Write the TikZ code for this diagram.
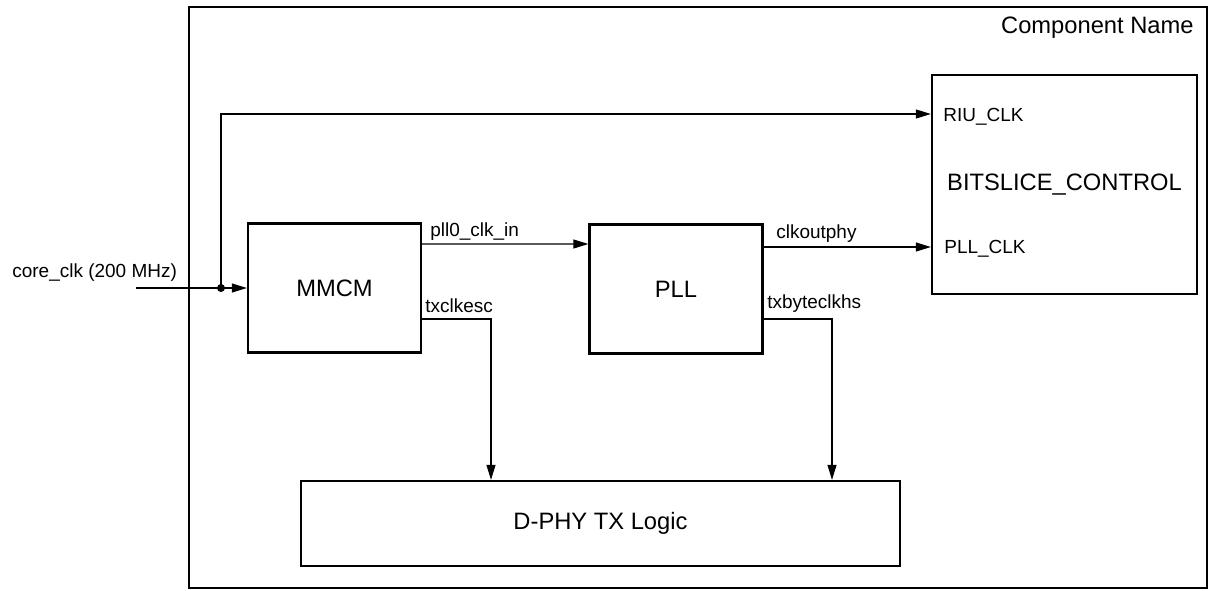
\documentclass[tikz,border=0pt]{standalone}
\usepackage{fontspec}
\setmainfont{Liberation Sans}
\usetikzlibrary{arrows.meta}

\begin{document}
\begin{tikzpicture}[
		blk/.style={draw, rectangle, line width=1.3pt, align=center, font=\fontsize{13.5}{16}\selectfont},
		lbl/.style={inner sep=0pt, anchor=base west, font=\fontsize{10.8}{13}\selectfont},
		arrow/.style={-{Triangle[length=0.3cm, width=0.18cm]}, line width=0.6pt},
	]
	\useasboundingbox (0,0) rectangle (24.18,-11.8);
	\draw[line width=1.3pt] (3.78,-0.14) rectangle (24.14,-11.76);
	\node[lbl, anchor=base east, font=\fontsize{13.5}{16}\selectfont] (comp) at (23.88,-0.66) {Component Name};

	\node[blk, minimum width=3.46cm, minimum height=2.58cm] (mmcm) at (6.69,-5.76)  {MMCM};
	\node[blk, minimum width=3.46cm, minimum height=2.58cm] (pll)  at (13.52,-5.78) {PLL};
	\node[blk, minimum width=5.3cm,  minimum height=4.38cm] (bsc)  at (21.29,-3.69) {BITSLICE\_CONTROL};
	\node[blk, minimum width=11.98cm, minimum height=1.7cm] (dphy) at (12.01,-10.47) {D-PHY TX Logic};

	\node[lbl] (riu)    at (18.86,-2.42) {RIU\_CLK};
	\node[lbl] (pllclk) at (18.88,-5.06) {PLL\_CLK};
	\node[lbl] (core)   at (0.24,-5.54)  {core\_clk (200 MHz)};
	\node[lbl] (pin)    at (8.6,-4.72)   {pll0\_clk\_in};
	\node[lbl] (esc)    at (8.5,-6.24)   {txclkesc};
	\node[lbl] (cop)    at (15.52,-4.76) {clkoutphy};
	\node[lbl] (hs)     at (15.34,-6.16) {txbyteclkhs};

	\coordinate (src) at (2.72,-5.76);
	\coordinate (tap) at (4.42,-5.76);

	\draw[arrow] (src) -- (mmcm.west);
	\fill (tap) circle (0.08);
	\draw[arrow] (tap) |- (bsc.west |- 0,-2.28);
	\draw[arrow] ([yshift=0.88cm]mmcm.east) -- ([yshift=0.9cm]pll.west);
	\draw[arrow] ([yshift=0.84cm]pll.east) -- (bsc.west |- 0,-4.94);
	\draw[arrow] ([yshift=-0.62cm]mmcm.east) -| ([xshift=-2.19cm]dphy.north);
	\draw[arrow] ([yshift=-0.6cm]pll.east) -| ([xshift=4.63cm]dphy.north);
\end{tikzpicture}
\end{document}
